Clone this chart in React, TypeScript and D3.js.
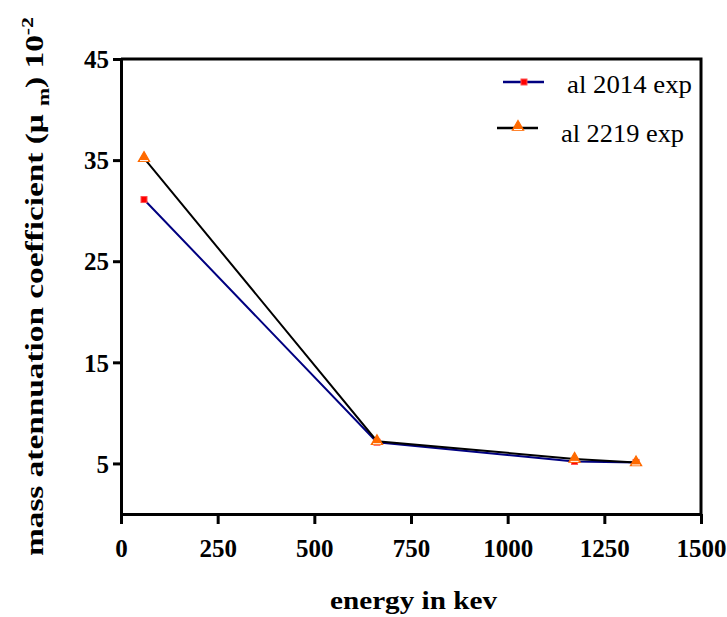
import { useRef, useEffect } from 'react';
import * as d3 from 'd3';

const energy = [59.5, 662, 1173, 1332];
const al2014 = [31.1, 7.1, 5.2, 5.1];
const al2219 = [35.2, 7.2, 5.45, 5.1];
const xTicks = [0, 250, 500, 750, 1000, 1250, 1500];
const yTicks = [5, 15, 25, 35, 45];
const seriesNames = ['al 2014 exp', 'al 2219 exp'];

export default function App() {
  const svgRef = useRef<SVGSVGElement>(null);

  useEffect(() => {
    if (!svgRef.current) return;
    const svg = d3.select(svgRef.current);
    svg.selectAll('*').remove();

    const width = 727;
    const height = 617;
    const left = 121, right = 701, top = 59, bottom = 514;
    const font = '"Times New Roman", "Liberation Serif", "DejaVu Serif", serif';

    const x = d3.scaleLinear().domain([0, 1500]).range([left, right]);
    const y = d3.scaleLinear().domain([0, 45]).range([bottom, top]);

    svg.attr('width', width).attr('height', height);

    // frame (top + right)
    svg.append('path')
      .attr('d', `M${left},${top}H${right}V${bottom}`)
      .attr('fill', 'none').attr('stroke', '#000').attr('stroke-width', 3);

    // Axes
    const xAxis = svg.append('g')
      .attr('transform', `translate(0,${bottom})`)
      .call(d3.axisBottom(x).tickValues(xTicks).tickSize(10).tickSizeOuter(0).tickPadding(10).tickFormat(d3.format('d')));
    const yAxis = svg.append('g')
      .attr('transform', `translate(${left},0)`)
      .call(d3.axisLeft(y).tickValues(yTicks).tickSize(8).tickSizeOuter(0).tickPadding(4).tickFormat(d3.format('d')));
    [xAxis, yAxis].forEach((a) => {
      a.attr('font-family', null).attr('font-size', null);
      a.select('.domain').attr('stroke', '#000').attr('stroke-width', 3);
      a.selectAll('line').attr('stroke', '#000').attr('stroke-width', 3);
      a.selectAll('text')
        .attr('fill', '#000')
        .style('font-family', font)
        .style('font-weight', 'bold')
        .style('font-size', '25px');
    });
    xAxis.selectAll('text').attr('dy', '0.9em');
    yAxis.selectAll('text').attr('dy', '0.35em');

    const pts = (vals: number[]) => energy.map((e, i) => [x(e), y(vals[i])] as [number, number]);
    const line = d3.line();

    svg.append('path').attr('d', line(pts(al2014))).attr('fill', 'none')
      .attr('stroke', '#000080').attr('stroke-width', 2);
    svg.append('path').attr('d', line(pts(al2219))).attr('fill', 'none')
      .attr('stroke', '#000').attr('stroke-width', 2);

    const square = (g: d3.Selection<SVGGElement, unknown, null, undefined>, cx: number, cy: number) => {
      g.append('rect').attr('x', cx - 3).attr('y', cy - 3).attr('width', 6).attr('height', 6)
        .attr('fill', '#ff0000').attr('stroke', '#ff5050').attr('stroke-width', 1);
    };
    const tri = d3.symbol().type(d3.symbolTriangle).size(55);
    const triangle = (g: d3.Selection<SVGGElement, unknown, null, undefined>, cx: number, cy: number) => {
      g.append('path').attr('d', tri()).attr('transform', `translate(${cx},${cy})`)
        .attr('fill', '#ff6a00').attr('stroke', '#ff6a00').attr('stroke-width', 1.2);
      g.append('line').attr('x1', cx - 4).attr('x2', cx + 4).attr('y1', cy + 2.5).attr('y2', cy + 2.5)
        .attr('stroke', '#fff').attr('stroke-width', 1);
    };

    const marks = svg.append('g');
    pts(al2014).forEach(([cx, cy]) => square(marks, cx, cy));
    pts(al2219).forEach(([cx, cy]) => triangle(marks, cx, cy));

    // Legend
    const leg = svg.append('g');
    leg.append('line').attr('x1', 503).attr('x2', 544).attr('y1', 82).attr('y2', 82)
      .attr('stroke', '#000080').attr('stroke-width', 2.5);
    square(leg, 524, 82);
    leg.append('line').attr('x1', 497).attr('x2', 538).attr('y1', 128).attr('y2', 128)
      .attr('stroke', '#000').attr('stroke-width', 2.5);
    triangle(leg, 518, 127);
    [[567, 93, 125], [561, 142, 123]].forEach(([tx, ty, tl], i) => {
      leg.append('text').attr('x', tx).attr('y', ty)
        .attr('textLength', tl).attr('lengthAdjust', 'spacingAndGlyphs')
        .style('font-family', font).style('font-size', '26px').attr('fill', '#000')
        .text(seriesNames[i]);
    });

    // Axis titles
    svg.append('text')
      .attr('x', 330).attr('y', 609)
      .attr('textLength', 167).attr('lengthAdjust', 'spacingAndGlyphs')
      .style('font-family', font).style('font-weight', 'bold').style('font-size', '25px')
      .text('energy in kev');

    const yt = svg.append('text')
      .attr('transform', `translate(43, 556) rotate(-90)`)
      .attr('textLength', 539).attr('lengthAdjust', 'spacingAndGlyphs')
      .style('font-family', font).style('font-weight', 'bold').style('font-size', '26px');
    yt.append('tspan').text('mass atennuation coefficient (μ ');
    yt.append('tspan').attr('dy', 6).style('font-size', '17px').text('m');
    yt.append('tspan').attr('dy', -6).text(') 10');
    yt.append('tspan').attr('dy', -10).style('font-size', '17px').text('-2');
  }, []);

  return (
    <svg ref={svgRef} style={{ position: 'absolute', left: 0, top: 0, display: 'block', background: '#fff' }} />
  );
}
